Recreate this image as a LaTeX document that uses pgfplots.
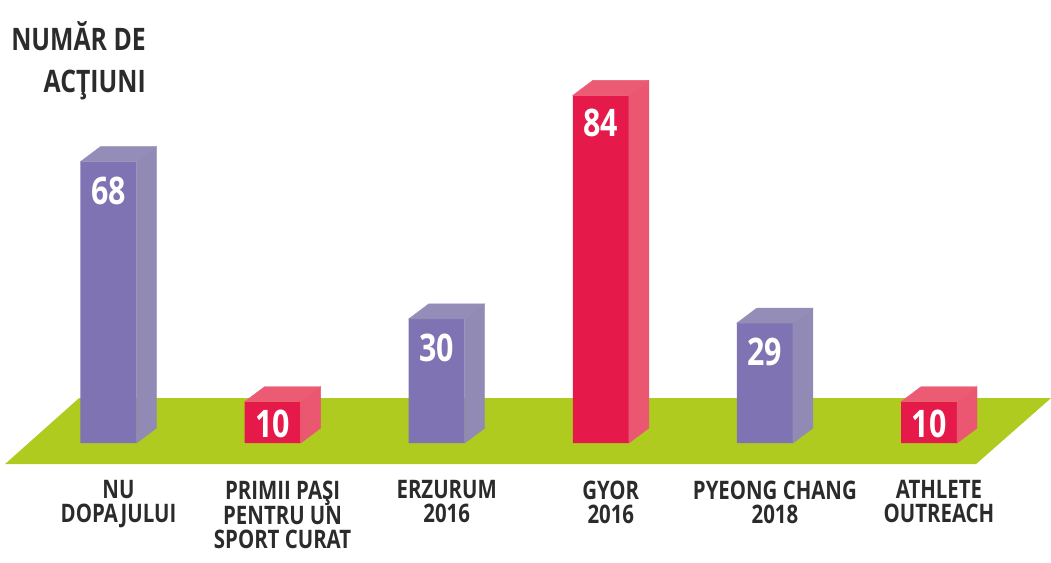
\documentclass[border=0pt]{standalone}
\usepackage{pgfplots}
\pgfplotsset{compat=1.18}
\usepackage{pgfplotstable}
\usepackage{fontspec}
\setmainfont{Open Sans}[FakeStretch=0.8]
\definecolor{purpF}{HTML}{7F73B3}
\definecolor{purpS}{HTML}{918AB4}
\definecolor{purpT}{HTML}{948DB7}
\definecolor{redF}{HTML}{E51A4B}
\definecolor{redS}{HTML}{EB5771}
\definecolor{redT}{HTML}{EC5B74}
\definecolor{floorG}{HTML}{AFCB1F}
\definecolor{txt}{HTML}{2B2B2B}
\pgfplotstableread{
x y s
0 68 -12
2 30 -11
4 29 -11
}\purpdata
\pgfplotstableread{
x y s
1 10 -5
3 84 -10
5 10 -5
}\reddata
\newcommand{\labfont}{\fontsize{25.5}{24}\selectfont\bfseries}
\newcommand{\valfont}{\fontsize{38}{38}\selectfont\bfseries}
\begin{document}
\begin{tikzpicture}
\begin{axis}[
  scale only axis, width=1051pt, height=562pt,
  xmin=-0.66118, xmax=5.74345, ymin=-28.744, ymax=107.005,
  axis line style={draw=none}, major tick length=0pt,
  ytick=\empty, xtick={0,...,5},
  xticklabels={{NU\\DOPAJULUI},{PRIMII PAŞI\\PENTRU UN\\SPORT CURAT},{ERZURUM\\2016},{GYOR\\2016},{PYEONG CHANG\\2018},{ATHLETE\\OUTREACH}},
  xticklabel style={font=\labfont, align=center, anchor=north, xshift=10pt, yshift=85pt, text=txt},
  clip=false,
  /pgf/number format/assume math mode=true,
]
% floor
\addplot[fill=floorG, draw=none] coordinates {(-0.6307,-5.07) (5.2864,-5.07) (5.7434,10.87) (-0.1798,10.87)} -- cycle;
% sides and tops
\addplot[scatter, only marks, mark=text, text mark={},
  visualization depends on={\thisrow{y} \as \val},
  scatter/@pre marker code/.code={%
    \pgfmathsetmacro\h{\val*4.14}%
    \fill[purpS] (28pt,0pt) -- (48pt,15pt) -- (48pt,15pt-\h pt) -- (28pt,-\h pt) -- cycle;
    \fill[purpT] (-28pt,0pt) -- (28pt,0pt) -- (48pt,15pt) -- (-8pt,15pt) -- cycle;
  },
  scatter/@post marker code/.code={}]
  table[x=x,y=y] {\purpdata};
\addplot[scatter, only marks, mark=text, text mark={},
  visualization depends on={\thisrow{y} \as \val},
  scatter/@pre marker code/.code={%
    \pgfmathsetmacro\h{\val*4.14}%
    \fill[redS] (28pt,0pt) -- (48pt,15pt) -- (48pt,15pt-\h pt) -- (28pt,-\h pt) -- cycle;
    \fill[redT] (-28pt,0pt) -- (28pt,0pt) -- (48pt,15pt) -- (-8pt,15pt) -- cycle;
  },
  scatter/@post marker code/.code={}]
  table[x=x,y=y] {\reddata};
% fronts
\addplot[ybar, bar width=56pt, bar shift=0pt, fill=purpF, draw=none,
  visualization depends on={\thisrow{s} \as \sh},
  nodes near coords, nodes near coords align={anchor=north},
  every node near coord/.append style={font=\valfont, text=white, anchor=north, yshift=\sh pt}]
  table[x=x,y=y] {\purpdata};
\addplot[ybar, bar width=56pt, bar shift=0pt, fill=redF, draw=none,
  visualization depends on={\thisrow{s} \as \sh},
  nodes near coords, nodes near coords align={anchor=north},
  every node near coord/.append style={font=\valfont, text=white, anchor=north, yshift=\sh pt}]
  table[x=x,y=y] {\reddata};
\node[anchor=north east, align=right, font=\fontsize{31}{42}\selectfont\bfseries, text=txt, inner sep=0pt]
  at (rel axis cs:{146/1051},{1-21/562}) {NUMĂR DE\\ACŢIUNI};
\end{axis}
\end{tikzpicture}
\end{document}
